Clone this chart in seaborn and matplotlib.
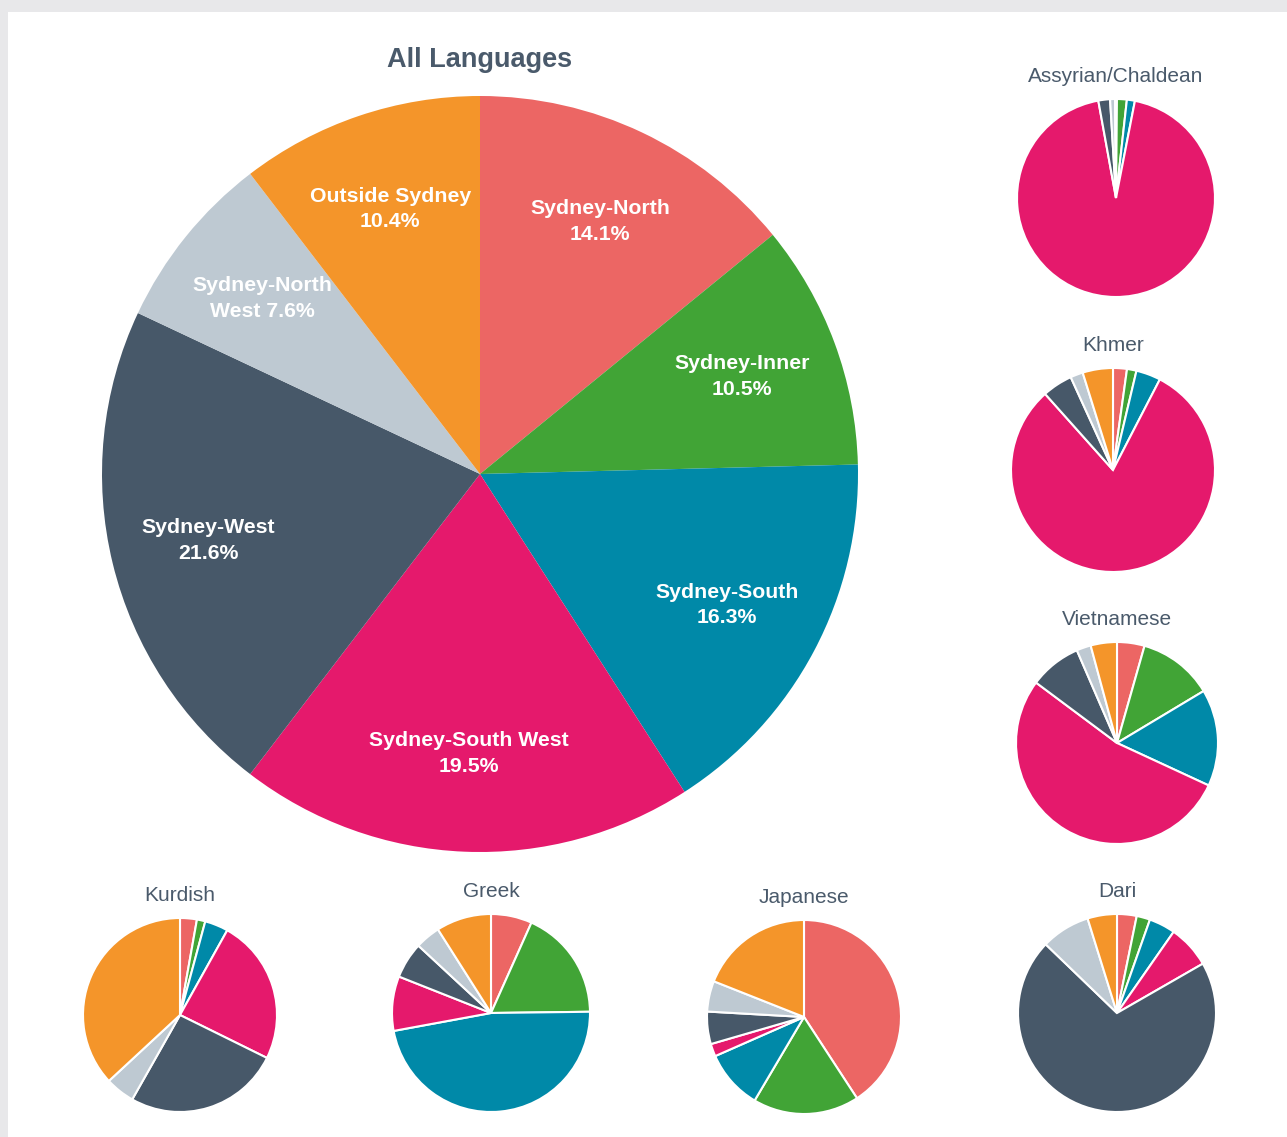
import matplotlib
matplotlib.use('Agg')
import matplotlib.pyplot as plt
import seaborn as sns
from matplotlib.patches import Rectangle

# regions in pie order (clockwise from 12 o'clock)
regions = ['Sydney-North', 'Sydney-Inner', 'Sydney-South', 'Sydney-South West',
           'Sydney-West', 'Sydney-North West', 'Outside Sydney']
region_colors = ['#EC6664', '#41A436', '#0089A8', '#E5196C', '#475869', '#BEC9D2', '#F4952A']

all_languages = [14.1, 10.5, 16.3, 19.5, 21.6, 7.6, 10.4]

assyrian = [0.15, 1.6, 1.3, 93.6, 1.9, 0.8, 0.15]
khmer = [2.2, 1.5, 3.9, 80.8, 4.8, 2.0, 4.8]
vietnamese = [4.4, 12.0, 15.5, 53.3, 8.3, 2.3, 4.2]
kurdish = [2.8, 1.4, 3.9, 24.2, 25.9, 4.9, 36.9]
greek = [6.7, 18.1, 47.3, 8.9, 5.9, 4.1, 9.0]
japanese = [40.8, 17.7, 9.9, 2.1, 5.4, 5.1, 19.0]
dari = [3.2, 2.2, 4.3, 7.0, 70.5, 8.0, 4.8]

# small pies: name, values, centre x/y and radius in pixels
small_pies = [
    ('Assyrian/Chaldean', assyrian, 1116, 198, 99),
    ('Khmer', khmer, 1113, 470, 102),
    ('Vietnamese', vietnamese, 1117, 743, 101),
    ('Kurdish', kurdish, 180, 1015, 97),
    ('Greek', greek, 491, 1013, 99),
    ('Japanese', japanese, 804, 1017, 97),
    ('Dari', dari, 1117, 1013, 99),
]

sns.set_theme(style='white')
plt.rcParams['font.family'] = ['Liberation Sans', 'DejaVu Sans']
palette = sns.color_palette(region_colors)
title_color = '#4A5A6B'

W, H = 1287, 1137
fig = plt.figure(figsize=(W / 100, H / 100), dpi=100)
fig.patch.set_facecolor('#E8E8EA')
fig.patches.append(Rectangle((8 / W, 0), 1 - 8 / W, (H - 12) / H, transform=fig.transFigure,
                             facecolor='white', edgecolor='none', zorder=-5))


def pie_axes(cx, cy, r):
    a = fig.add_axes([(cx - r) / W, (H - cy - r) / H, 2 * r / W, 2 * r / H])
    a.set_facecolor('none')
    return a


# main pie
ax = pie_axes(480, 474, 378)
labels = []
for n, v in zip(regions, all_languages):
    if n == 'Sydney-North West':
        labels.append(f'Sydney-North\nWest {v:.1f}%')
    else:
        labels.append(f'{n}\n{v:.1f}%')
wedges, texts = ax.pie(all_languages, labels=labels, colors=palette, startangle=90,
                       counterclock=False, labeldistance=0.74, wedgeprops=dict(linewidth=0),
                       textprops=dict(color='white', fontweight='bold', fontsize=15.3,
                                      ha='center', va='center', linespacing=1.45))
ax.set_xlim(-1, 1)
ax.set_ylim(-1, 1)
ax.set_title('All Languages', fontsize=19.5, fontweight='bold', color=title_color, pad=21)

for name, vals, cx, cy, r in small_pies:
    a = pie_axes(cx, cy, r)
    a.pie(vals, colors=palette, startangle=90, counterclock=False,
          wedgeprops=dict(edgecolor='white', linewidth=1.5))
    a.set_xlim(-1, 1)
    a.set_ylim(-1, 1)
    a.set_title(name, fontsize=15, color=title_color, pad=12)

fig.savefig('out.png', dpi=100, facecolor=fig.get_facecolor())
